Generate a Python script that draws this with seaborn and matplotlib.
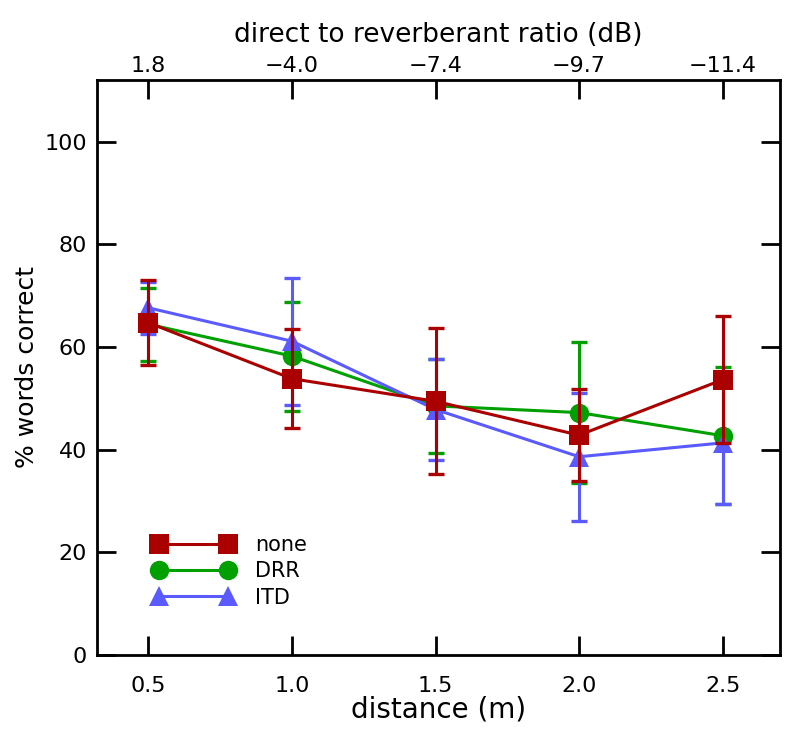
import numpy as np
import pandas as pd
import seaborn as sns
import matplotlib.pyplot as plt
from matplotlib.lines import Line2D

# values
distance = [0.5, 1.0, 1.5, 2.0, 2.5]
drr_labels = ['1.8', '\u22124.0', '\u22127.4', '\u22129.7', '\u221211.4']

none_mean = [64.7, 53.8, 49.4, 42.8, 53.6]
none_err = [8.3, 9.6, 14.2, 8.9, 12.4]
drr_mean = [64.4, 58.2, 48.5, 47.2, 42.7]
drr_err = [7.1, 10.6, 9.2, 13.7, 13.3]
itd_mean = [67.6, 61.1, 47.8, 38.6, 41.3]
itd_err = [5.0, 12.4, 9.8, 12.5, 11.9]

conditions = ['none', 'DRR', 'ITD']
colors = {'none': '#aa0000', 'DRR': '#00a000', 'ITD': '#5a5aff'}
markers = {'none': 's', 'DRR': 'o', 'ITD': '^'}

df = pd.DataFrame({
    'distance': distance * 3,
    'score': none_mean + drr_mean + itd_mean,
    'err': none_err + drr_err + itd_err,
    'cond': ['none'] * 5 + ['DRR'] * 5 + ['ITD'] * 5,
})

sns.set_style('ticks')
plt.rcParams['font.family'] = ['DejaVu Sans']
plt.rcParams['text.color'] = 'black'
plt.rcParams['axes.labelcolor'] = 'black'
plt.rcParams['xtick.color'] = 'black'
plt.rcParams['ytick.color'] = 'black'
plt.rcParams['axes.edgecolor'] = 'black'

fig = plt.figure(figsize=(8, 7.4), dpi=100)
ax = fig.add_axes([0.121, 0.115, 0.854, 0.777])

# draw green first, then blue, red on top
for z, c in enumerate(['DRR', 'ITD', 'none']):
    sub = df[df.cond == c]
    ax.errorbar(sub.distance, sub.score, yerr=sub.err, fmt='none',
                ecolor=colors[c], elinewidth=2.2, capsize=6, capthick=2.4,
                zorder=2 + z)
    sns.lineplot(data=sub, x='distance', y='score', ax=ax, color=colors[c],
                 marker=markers[c], markersize=14, markeredgewidth=0,
                 linewidth=2.2, zorder=2 + z, legend=False)

ax.set_xlim(0.32, 2.7)
ax.set_ylim(0, 112)
ax.set_xticks(distance)
ax.set_xticklabels(['0.5', '1.0', '1.5', '2.0', '2.5'])
ax.set_yticks([0, 20, 40, 60, 80, 100])
ax.tick_params(direction='in', length=14, width=2, labelsize=16,
               right=True, pad=7)
ax.tick_params(axis='x', pad=15)
for s in ax.spines.values():
    s.set_linewidth(2)
    s.set_visible(True)
ax.set_xlabel('distance (m)', fontsize=20, labelpad=0)
ax.set_ylabel('% words correct', fontsize=18, labelpad=4)

top = ax.twiny()
top.set_xlim(ax.get_xlim())
top.set_xticks(distance)
top.set_xticklabels(drr_labels)
top.tick_params(direction='in', length=14, width=2, labelsize=16, pad=3)
top.set_xlabel('direct to reverberant ratio (dB)', fontsize=19, labelpad=10)

handles = [Line2D([0], [0], color=colors[c], marker=markers[c], markersize=14,
                  markeredgewidth=0, linewidth=2.2) for c in conditions]
ax.legend(handles, conditions, loc='upper left', bbox_to_anchor=(0.055, 0.241),
          frameon=False, numpoints=2, handlelength=3.9, fontsize=15,
          labelspacing=0.3, handletextpad=1.0)

fig.savefig('out.png', dpi=100)
